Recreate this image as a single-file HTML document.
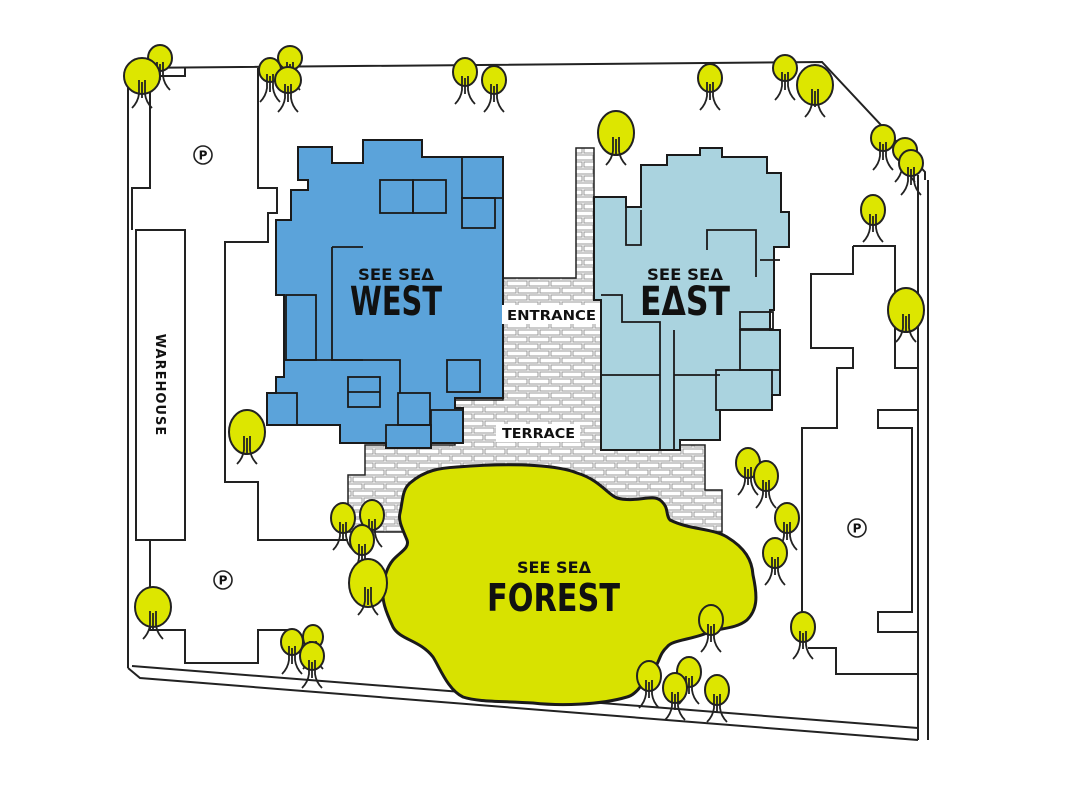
<!DOCTYPE html>
<html><head><meta charset="utf-8"><style>
html,body{margin:0;padding:0;background:#fff;}
svg{display:block;}
.t{font-family:"DejaVu Sans","Liberation Sans",sans-serif;font-weight:bold;fill:#111;}
</style></head><body>
<svg width="1080" height="792" viewBox="0 0 1080 792" xmlns="http://www.w3.org/2000/svg">
<defs>
<pattern id="brick" width="22" height="14" patternUnits="userSpaceOnUse">
<rect width="22" height="14" fill="#fff"/>
<rect x="1" y="1" width="20" height="5" fill="none" stroke="#999" stroke-width="1"/>
<rect x="-10" y="8" width="20" height="5" fill="none" stroke="#999" stroke-width="1"/>
<rect x="12" y="8" width="20" height="5" fill="none" stroke="#999" stroke-width="1"/>
</pattern>
<g id="tree">
<path d="M-3,4 L-3,18 Q-4,26 -10,32 M3,4 L3,18 Q4,26 10,32 M0,6 L0,22" fill="none" stroke="#222" stroke-width="1.8"/>
</g>
</defs>
<g fill="none" stroke="#222" stroke-width="2">
<polyline points="128,668 128,68 822,62 925,172 925,180"/>
<line x1="918" y1="175" x2="918" y2="740"/>
<line x1="928" y1="180" x2="928" y2="740"/>
<polyline points="128,668 140,678 918,740"/>
<polyline points="132,666 918,728"/>
<polyline points="150,68 150,188 132,188 132,230"/>
<rect x="136" y="230" width="49" height="310"/>
<polyline points="150,540 150,630 185,630 185,663 258,663 258,630 290,630"/>
<polyline points="185,68 185,76 150,76"/>
<polyline points="258,68 258,188 277,188 277,213 268,213 268,242 225,242 225,482 258,482 258,540 348,540"/>
<polyline points="853,246 895,246 895,368 918,368"/>
<polyline points="853,246 853,274 811,274 811,348 853,348 853,368 837,368 837,428 802,428 802,640"/>
<polyline points="808,648 836,648 836,674 918,674"/>
<polyline points="918,410 878,410 878,428 912,428 912,612 878,612 878,632 918,632"/>
</g>
<polygon points="576,148 594,148 594,300 601,300 601,445 705,445 705,490 722,490 722,532 348,532 348,475 365,475 365,445 455,445 455,400 503,400 503,278 576,278" fill="url(#brick)" stroke="#222" stroke-width="1.5"/>
<polygon points="298,147 332,147 332,163 363,163 363,140 422,140 422,157 503,157 503,398 455,398 455,408 463,408 463,443 431,443 431,448 386,448 386,443 340,443 340,425 267,425 267,393 276,393 276,377 284,377 284,295 276,295 276,220 291,220 291,190 308,190 308,180 298,180" fill="#5ba3da" stroke="#1a1a1a" stroke-width="2"/>
<g fill="none" stroke="#1a1a1a" stroke-width="1.8">
<rect x="380" y="180" width="33" height="33"/><rect x="413" y="180" width="33" height="33"/>
<rect x="462" y="157" width="41" height="41"/><rect x="462" y="198" width="33" height="30"/>
<polyline points="332,247 363,247"/><polyline points="332,247 332,360 363,360"/>
<rect x="286" y="295" width="30" height="65"/>
<rect x="447" y="360" width="33" height="32"/>
<rect x="348" y="377" width="32" height="30"/><line x1="348" y1="392" x2="380" y2="392"/>
<rect x="398" y="393" width="32" height="32"/><rect x="431" y="410" width="32" height="33"/>
<rect x="386" y="425" width="45" height="23"/>
<rect x="267" y="393" width="30" height="32"/>
<polyline points="284,360 400,360 400,393"/>
</g>
<polygon points="593,197 626,197 626,207 641,207 641,165 667,165 667,155 700,155 700,148 722,148 722,157 767,157 767,173 781,173 781,212 789,212 789,247 774,247 774,310 770,310 770,330 780,330 780,395 772,395 772,410 720,410 720,440 680,440 680,450 601,450 601,300 594,300 594,197" fill="#aad3df" stroke="#1a1a1a" stroke-width="2"/>
<g fill="none" stroke="#1a1a1a" stroke-width="1.8">
<polyline points="626,197 626,245 641,245 641,210"/>
<polyline points="707,250 707,230 756,230 756,277"/>
<polyline points="601,295 622,295 622,322 660,322 660,450"/>
<polyline points="601,375 660,375"/><polyline points="674,330 674,450"/>
<polyline points="674,375 720,375"/>
<rect x="740" y="312" width="33" height="17"/><rect x="740" y="330" width="40" height="40"/>
<rect x="716" y="370" width="56" height="40"/>
<polyline points="760,260 780,260"/>
</g>
<path d="M457,467 C520,462 560,466 577,473 C600,480 608,495 617,498 C635,503 652,494 660,500 C670,508 665,515 670,520 C690,530 712,528 727,537 C745,548 752,560 753,575 C758,598 757,610 747,620 C735,630 715,628 707,633 C690,640 672,640 667,647 C658,655 660,665 650,673 C640,688 635,695 627,697 C600,705 560,706 533,703 C500,701 478,702 463,697 C448,690 440,668 433,657 C420,640 400,640 393,627 C385,610 382,600 383,590 C384,575 388,566 393,560 C400,552 410,548 407,540 C402,528 398,520 400,513 C403,500 402,490 410,483 C425,470 440,468 457,467 Z" fill="#d8e200" stroke="#1a1a1a" stroke-width="3"/>
<text class="t" x="358" y="280" font-size="16" textLength="76" lengthAdjust="spacingAndGlyphs">SEE SEΔ</text>
<text class="t" x="350" y="315" font-size="40" textLength="92" lengthAdjust="spacingAndGlyphs">WEST</text>
<text class="t" x="647" y="280" font-size="16" textLength="76" lengthAdjust="spacingAndGlyphs">SEE SEΔ</text>
<text class="t" x="640" y="315" font-size="40" textLength="90" lengthAdjust="spacingAndGlyphs">EΔST</text>
<text class="t" x="517" y="573" font-size="16" textLength="74" lengthAdjust="spacingAndGlyphs">SEE SEΔ</text>
<text class="t" x="487" y="611" font-size="38" textLength="133" lengthAdjust="spacingAndGlyphs">FOREST</text>
<rect x="502" y="305" width="98" height="19" fill="#fff"/>
<text class="t" x="507" y="320" font-size="13" textLength="89" lengthAdjust="spacingAndGlyphs">ENTRANCE</text>
<rect x="496" y="424" width="84" height="18" fill="#fff"/>
<text class="t" x="502" y="438" font-size="13" textLength="73" lengthAdjust="spacingAndGlyphs">TERRACE</text>
<text class="t" font-size="13" letter-spacing="1" text-anchor="middle" transform="translate(156,385) rotate(90)">WAREHOUSE</text>
<g fill="none" stroke="#222" stroke-width="1.6">
<circle cx="203" cy="155" r="9"/><circle cx="223" cy="580" r="9"/><circle cx="857" cy="528" r="9"/>
</g>
<g class="t" font-size="12" text-anchor="middle">
<text x="203" y="159.5">P</text><text x="223" y="584.5">P</text><text x="857" y="532.5">P</text>
</g>
<g fill="#dde600" stroke="#222" stroke-width="2">
<g transform="translate(160,58)"><ellipse rx="12" ry="13"/><use href="#tree"/></g>
<g transform="translate(142,76)"><ellipse rx="18" ry="18"/><use href="#tree"/></g>
<g transform="translate(270,70)"><ellipse rx="11" ry="12"/><use href="#tree"/></g>
<g transform="translate(290,58)"><ellipse rx="12" ry="12"/><use href="#tree"/></g>
<g transform="translate(288,80)"><ellipse rx="13" ry="13"/><use href="#tree"/></g>
<g transform="translate(465,72)"><ellipse rx="12" ry="14"/><use href="#tree"/></g>
<g transform="translate(494,80)"><ellipse rx="12" ry="14"/><use href="#tree"/></g>
<g transform="translate(710,78)"><ellipse rx="12" ry="14"/><use href="#tree"/></g>
<g transform="translate(785,68)"><ellipse rx="12" ry="13"/><use href="#tree"/></g>
<g transform="translate(815,85)"><ellipse rx="18" ry="20"/><use href="#tree"/></g>
<g transform="translate(616,133)"><ellipse rx="18" ry="22"/><use href="#tree"/></g>
<g transform="translate(883,138)"><ellipse rx="12" ry="13"/><use href="#tree"/></g>
<g transform="translate(905,150)"><ellipse rx="12" ry="12"/><use href="#tree"/></g>
<g transform="translate(911,163)"><ellipse rx="12" ry="13"/><use href="#tree"/></g>
<g transform="translate(873,210)"><ellipse rx="12" ry="15"/><use href="#tree"/></g>
<g transform="translate(906,310)"><ellipse rx="18" ry="22"/><use href="#tree"/></g>
<g transform="translate(247,432)"><ellipse rx="18" ry="22"/><use href="#tree"/></g>
<g transform="translate(748,463)"><ellipse rx="12" ry="15"/><use href="#tree"/></g>
<g transform="translate(766,476)"><ellipse rx="12" ry="15"/><use href="#tree"/></g>
<g transform="translate(787,518)"><ellipse rx="12" ry="15"/><use href="#tree"/></g>
<g transform="translate(775,553)"><ellipse rx="12" ry="15"/><use href="#tree"/></g>
<g transform="translate(343,518)"><ellipse rx="12" ry="15"/><use href="#tree"/></g>
<g transform="translate(372,515)"><ellipse rx="12" ry="15"/><use href="#tree"/></g>
<g transform="translate(362,540)"><ellipse rx="12" ry="15"/><use href="#tree"/></g>
<g transform="translate(368,583)"><ellipse rx="19" ry="24"/><use href="#tree"/></g>
<g transform="translate(153,607)"><ellipse rx="18" ry="20"/><use href="#tree"/></g>
<g transform="translate(313,637)"><ellipse rx="10" ry="12"/><use href="#tree"/></g>
<g transform="translate(292,642)"><ellipse rx="11" ry="13"/><use href="#tree"/></g>
<g transform="translate(312,656)"><ellipse rx="12" ry="14"/><use href="#tree"/></g>
<g transform="translate(711,620)"><ellipse rx="12" ry="15"/><use href="#tree"/></g>
<g transform="translate(803,627)"><ellipse rx="12" ry="15"/><use href="#tree"/></g>
<g transform="translate(649,676)"><ellipse rx="12" ry="15"/><use href="#tree"/></g>
<g transform="translate(689,672)"><ellipse rx="12" ry="15"/><use href="#tree"/></g>
<g transform="translate(675,688)"><ellipse rx="12" ry="15"/><use href="#tree"/></g>
<g transform="translate(717,690)"><ellipse rx="12" ry="15"/><use href="#tree"/></g>
</g>
</svg>
</body></html>
